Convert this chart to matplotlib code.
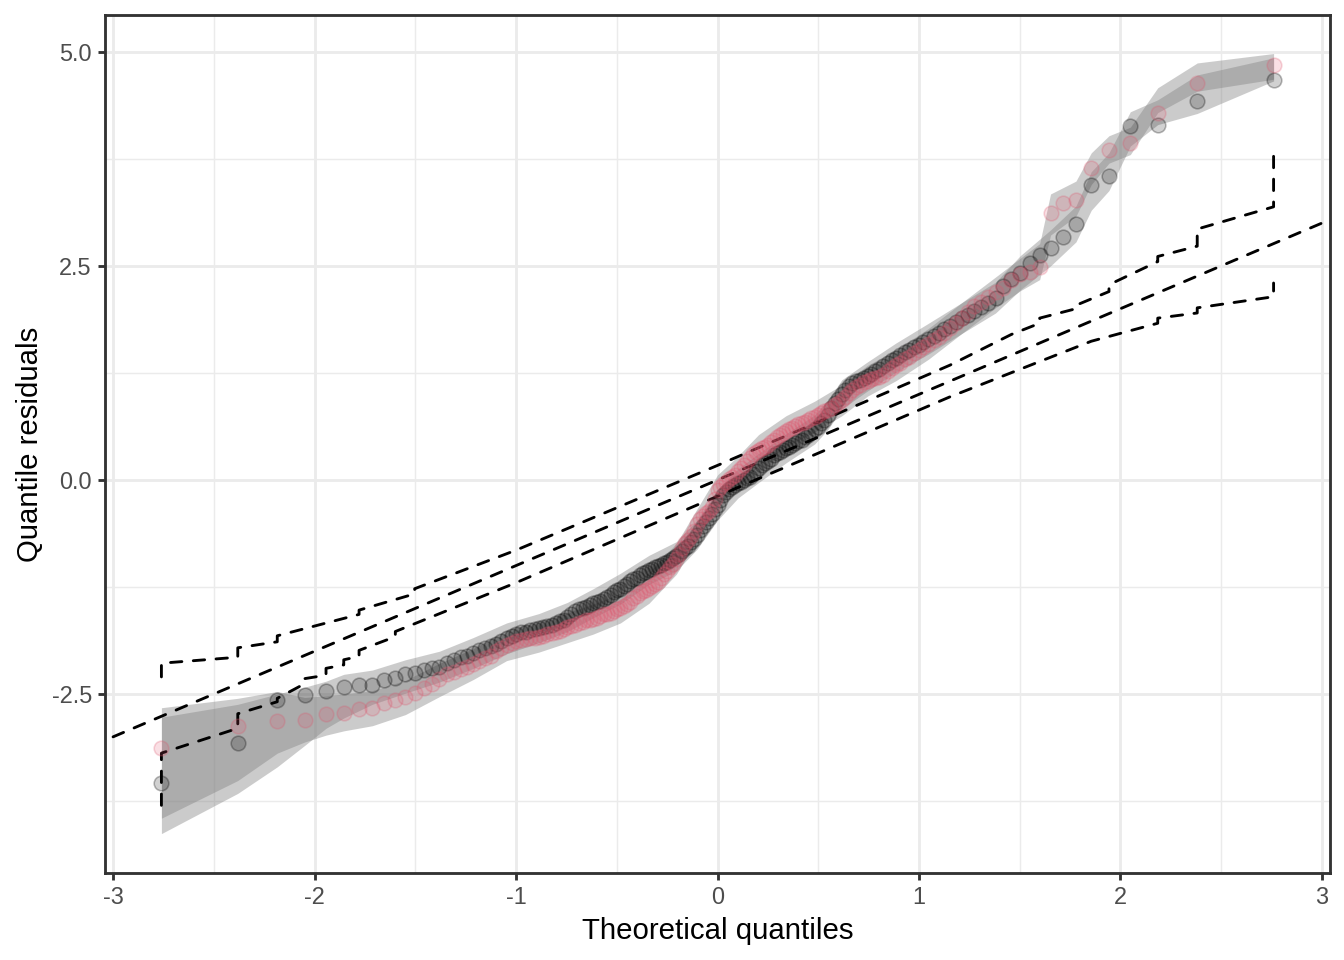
import matplotlib
matplotlib.use("Agg")
import matplotlib.pyplot as plt
from matplotlib.ticker import FixedLocator

plt.rcParams['font.family'] = ['Liberation Sans', 'DejaVu Sans']

# ---------------- data ----------------
theoretical_q = [
    -2.760, -2.381, -2.185, -2.049, -1.943, -1.855, -1.779, -1.713, -1.653, -1.599,
    -1.549, -1.503, -1.459, -1.419, -1.380, -1.343, -1.308, -1.275, -1.243, -1.212,
    -1.182, -1.153, -1.126, -1.099, -1.073, -1.047, -1.022, -0.998, -0.975, -0.952,
    -0.930, -0.908, -0.886, -0.865, -0.844, -0.823, -0.803, -0.783, -0.764, -0.745,
    -0.726, -0.707, -0.688, -0.670, -0.652, -0.634, -0.617, -0.599, -0.582, -0.565,
    -0.548, -0.531, -0.514, -0.498, -0.482, -0.465, -0.449, -0.433, -0.417, -0.402,
    -0.386, -0.370, -0.355, -0.340, -0.324, -0.309, -0.294, -0.279, -0.264, -0.249,
    -0.234, -0.219, -0.204, -0.190, -0.175, -0.160, -0.146, -0.131, -0.116, -0.102,
    -0.087, -0.073, -0.058, -0.044, -0.029, -0.014,
    0.000,
    0.014, 0.029, 0.044, 0.058, 0.073, 0.087, 0.102, 0.116, 0.131, 0.146,
    0.160, 0.175, 0.190, 0.204, 0.219, 0.234, 0.249, 0.264, 0.279, 0.294,
    0.309, 0.324, 0.340, 0.355, 0.370, 0.386, 0.402, 0.417, 0.433, 0.449,
    0.465, 0.482, 0.498, 0.514, 0.531, 0.548, 0.565, 0.582, 0.599, 0.617,
    0.634, 0.652, 0.670, 0.688, 0.707, 0.726, 0.745, 0.764, 0.783, 0.803,
    0.823, 0.844, 0.865, 0.886, 0.908, 0.930, 0.952, 0.975, 0.998, 1.022,
    1.047, 1.073, 1.099, 1.126, 1.153, 1.182, 1.212, 1.243, 1.275, 1.308,
    1.343, 1.380, 1.419, 1.459, 1.503, 1.549, 1.599, 1.653, 1.713, 1.779,
    1.855, 1.943, 2.049, 2.185, 2.381, 2.760,
]

resid_grey = [
    -3.54, -3.07, -2.57, -2.51, -2.47, -2.42, -2.40, -2.39, -2.34, -2.31,
    -2.27, -2.25, -2.22, -2.20, -2.18, -2.14, -2.10, -2.07, -2.05, -2.02,
    -1.99, -1.96, -1.94, -1.91, -1.88, -1.85, -1.82, -1.80, -1.78, -1.77,
    -1.75, -1.74, -1.73, -1.72, -1.71, -1.69, -1.67, -1.65, -1.63, -1.60,
    -1.56, -1.53, -1.51, -1.50, -1.48, -1.46, -1.44, -1.42, -1.41, -1.39,
    -1.37, -1.34, -1.31, -1.29, -1.27, -1.24, -1.21, -1.18, -1.16, -1.14,
    -1.11, -1.09, -1.07, -1.05, -1.04, -1.02, -1.01, -0.99, -0.97, -0.96,
    -0.94, -0.91, -0.89, -0.86, -0.83, -0.80, -0.77, -0.73, -0.69, -0.64,
    -0.59, -0.54, -0.49, -0.45, -0.40, -0.34,
    -0.29,
    -0.23, -0.18, -0.14, -0.11, -0.08, -0.06, -0.04, -0.02, 0.00, 0.02,
    0.04, 0.07, 0.10, 0.14, 0.17, 0.20, 0.22, 0.25, 0.29, 0.31,
    0.33, 0.35, 0.37, 0.39, 0.41, 0.43, 0.45, 0.47, 0.50, 0.53,
    0.56, 0.59, 0.62, 0.66, 0.70, 0.76, 0.84, 0.90, 0.95, 1.00,
    1.05, 1.10, 1.13, 1.15, 1.17, 1.19, 1.21, 1.24, 1.27, 1.30,
    1.33, 1.37, 1.40, 1.43, 1.46, 1.49, 1.52, 1.55, 1.58, 1.61,
    1.65, 1.68, 1.72, 1.76, 1.80, 1.84, 1.89, 1.93, 1.97, 2.02,
    2.07, 2.13, 2.26, 2.35, 2.42, 2.53, 2.63, 2.71, 2.84, 2.99,
    3.44, 3.55, 4.13, 4.14, 4.43, 4.67,
]

resid_pink = [
    -3.13, -2.87, -2.82, -2.80, -2.73, -2.72, -2.67, -2.66, -2.61, -2.57,
    -2.54, -2.49, -2.43, -2.38, -2.33, -2.27, -2.24, -2.21, -2.18, -2.15,
    -2.12, -2.08, -2.05, -2.00, -1.96, -1.93, -1.90, -1.88, -1.87, -1.86,
    -1.85, -1.84, -1.83, -1.82, -1.80, -1.79, -1.77, -1.76, -1.74, -1.72,
    -1.70, -1.69, -1.67, -1.66, -1.64, -1.63, -1.62, -1.61, -1.59, -1.57,
    -1.56, -1.55, -1.53, -1.51, -1.49, -1.47, -1.45, -1.42, -1.38, -1.35,
    -1.32, -1.30, -1.28, -1.26, -1.24, -1.22, -1.19, -1.15, -1.10, -1.06,
    -1.02, -0.98, -0.92, -0.86, -0.80, -0.74, -0.70, -0.66, -0.60, -0.52,
    -0.46, -0.42, -0.39, -0.36, -0.31, -0.22,
    -0.12,
    -0.08, -0.05, -0.02, 0.01, 0.03, 0.06, 0.10, 0.14, 0.18, 0.22,
    0.26, 0.30, 0.33, 0.35, 0.37, 0.39, 0.41, 0.44, 0.47, 0.50,
    0.53, 0.55, 0.57, 0.59, 0.61, 0.63, 0.65, 0.67, 0.68, 0.70,
    0.72, 0.74, 0.76, 0.78, 0.80, 0.82, 0.84, 0.87, 0.90, 0.93,
    0.97, 1.01, 1.05, 1.08, 1.11, 1.14, 1.16, 1.18, 1.19, 1.20,
    1.23, 1.27, 1.31, 1.34, 1.37, 1.41, 1.44, 1.48, 1.52, 1.55,
    1.59, 1.63, 1.67, 1.72, 1.77, 1.83, 1.89, 1.96, 2.03, 2.08,
    2.14, 2.19, 2.24, 2.34, 2.40, 2.43, 2.49, 3.12, 3.23, 3.27,
    3.64, 3.85, 3.94, 4.28, 4.64, 4.85,
]

# simulated bands (one per set of residuals)
band_grey_x = [-2.760, -2.381, -2.185, -2.049, -1.943, -1.855, -1.713, -1.549, -1.380,
               -1.212, -1.047, -0.886, -0.745, -0.617, -0.482, -0.340, -0.204, -0.102,
               0.000, 0.102, 0.204, 0.340, 0.482, 0.548, 0.617, 0.745, 0.886, 1.047,
               1.212, 1.380, 1.503, 1.653, 1.779, 1.855, 1.943, 2.049, 2.185, 2.381, 2.760]
band_grey_lo = [-4.13, -3.66, -3.35, -3.10, -2.90, -2.78, -2.62, -2.49, -2.36,
                -2.20, -2.03, -1.90, -1.77, -1.61, -1.45, -1.22, -1.06, -0.81,
                -0.47, -0.21, -0.03, 0.20, 0.42, 0.59, 0.83, 1.04, 1.26, 1.47,
                1.71, 1.95, 2.22, 2.50, 2.78, 3.15, 3.38, 3.90, 4.15, 4.28, 4.66]
band_grey_hi = [-2.77, -2.62, -2.50, -2.42, -2.35, -2.27, -2.22, -2.10, -2.00,
                -1.84, -1.67, -1.56, -1.43, -1.27, -1.09, -0.88, -0.72, -0.47,
                -0.11, 0.13, 0.31, 0.54, 0.76, 0.93, 1.17, 1.38, 1.60, 1.83,
                2.07, 2.31, 2.62, 2.92, 3.20, 3.60, 3.82, 4.30, 4.44, 4.73, 4.93]

band_pink_x = [-2.760, -2.381, -2.185, -2.049, -1.943, -1.855, -1.713, -1.549, -1.380,
               -1.212, -1.047, -0.886, -0.745, -0.617, -0.482, -0.340, -0.204, -0.102,
               0.000, 0.102, 0.204, 0.340, 0.482, 0.617, 0.745, 0.886, 1.047, 1.212,
               1.380, 1.503, 1.599, 1.653, 1.779, 1.855, 1.943, 2.049, 2.185, 2.381, 2.760]
band_pink_lo = [-3.95, -3.51, -3.19, -3.06, -2.98, -2.93, -2.87, -2.74, -2.53,
                -2.33, -2.11, -2.01, -1.90, -1.80, -1.67, -1.44, -1.10, -0.70,
                -0.30, -0.08, 0.17, 0.39, 0.56, 0.75, 0.98, 1.16, 1.41, 1.71,
                2.01, 2.21, 2.34, 2.86, 3.08, 3.45, 3.70, 3.80, 4.29, 4.54, 4.68]
band_pink_hi = [-2.66, -2.55, -2.47, -2.54, -2.52, -2.50, -2.46, -2.34, -2.14,
                -1.97, -1.75, -1.66, -1.55, -1.45, -1.32, -1.08, -0.74, -0.34,
                0.06, 0.28, 0.53, 0.75, 0.92, 1.11, 1.34, 1.52, 1.77, 2.07,
                2.37, 2.59, 2.76, 3.34, 3.49, 3.82, 4.02, 4.12, 4.58, 4.87, 4.98]

# reference line and envelope (dashed step lines)
ref_x = [-3.0, 3.0]
ref_y = [-3.0, 3.0]
upper_x = [-2.760, -2.760, -2.381, -2.381, -2.185, -2.185, -1.779, -1.779, -1.503, -1.503,
           -1.000, 0.000, 1.153, 1.459, 1.599, 1.599, 1.779, 1.779, 1.943, 1.943,
           2.185, 2.185, 2.381, 2.381, 2.760, 2.760]
upper_y = [-2.30, -2.14, -2.07, -1.96, -1.89, -1.82, -1.57, -1.52, -1.33, -1.27,
           -0.82, 0.17, 1.34, 1.70, 1.83, 1.89, 2.00, 2.04, 2.20, 2.28,
           2.55, 2.61, 2.73, 2.93, 3.19, 3.80]
lower_x = [-2.760, -2.760, -2.381, -2.381, -2.185, -2.185, -2.049, -2.049, -1.943, -1.943,
           -1.855, -1.855, -1.779, -1.779, -1.599, -1.599, -1.000, 0.000, 1.153, 1.855,
           2.185, 2.185, 2.381, 2.381, 2.760, 2.760]
lower_y = [-3.80, -3.19, -2.90, -2.73, -2.59, -2.55, -2.38, -2.32, -2.28, -2.20,
           -2.16, -2.10, -2.06, -1.99, -1.83, -1.77, -1.20, -0.19, 0.97, 1.62,
           1.83, 1.89, 1.95, 2.01, 2.14, 2.30]

x_ticks = [-3, -2, -1, 0, 1, 2, 3]
x_tick_labels = ["-3", "-2", "-1", "0", "1", "2", "3"]
y_ticks = [-2.5, 0.0, 2.5, 5.0]
y_tick_labels = ["-2.5", "0.0", "2.5", "5.0"]

# ---------------- plot ----------------
fig = plt.figure(figsize=(7, 5), dpi=192)
ax = fig.add_axes([105 / 1344, 1 - 873 / 960, (1330 - 105) / 1344, (873 - 15) / 960])

ax.set_xlim(-3.04, 3.04)
ax.set_ylim(-4.59, 5.43)

ax.xaxis.set_major_locator(FixedLocator(x_ticks))
ax.yaxis.set_major_locator(FixedLocator(y_ticks))
ax.xaxis.set_minor_locator(FixedLocator([-2.5, -1.5, -0.5, 0.5, 1.5, 2.5]))
ax.yaxis.set_minor_locator(FixedLocator([-3.75, -1.25, 1.25, 3.75]))
ax.set_xticklabels(x_tick_labels)
ax.set_yticklabels(y_tick_labels)

ax.grid(which='major', color='#EBEBEB', linewidth=1.07, zorder=0)
ax.grid(which='minor', color='#EBEBEB', linewidth=0.53, zorder=0)
ax.set_axisbelow(True)

ax.tick_params(which='major', length=2.75, width=1.07, color='#333333',
               labelsize=8.8, labelcolor='#4D4D4D', pad=2.2)
ax.tick_params(which='minor', length=0)
for sp in ax.spines.values():
    sp.set_color('#333333')
    sp.set_linewidth(1.07)

# bands
ax.fill_between(band_grey_x, band_grey_lo, band_grey_hi, color='#7F7F7F',
                alpha=0.4, linewidth=0, zorder=2)
ax.fill_between(band_pink_x, band_pink_lo, band_pink_hi, color='#7F7F7F',
                alpha=0.4, linewidth=0, zorder=2)

# reference line and envelope
dash_kw = dict(color='black', linewidth=1.07, linestyle=(0, (4, 4)),
               dash_capstyle='round', zorder=3)
ax.plot(ref_x, ref_y, **dash_kw)
ax.plot(upper_x, upper_y, **dash_kw)
ax.plot(lower_x, lower_y, **dash_kw)

# points
ax.scatter(theoretical_q, resid_grey, s=30, facecolors=(0, 0, 0, 0.18),
           edgecolors=(0, 0, 0, 0.28), linewidths=0.6, zorder=4)
ax.scatter(theoretical_q, resid_pink, s=30, facecolors=(0.875, 0.325, 0.42, 0.18),
           edgecolors=(0.875, 0.325, 0.42, 0.25), linewidths=0.6, zorder=5)

ax.set_xlabel("Theoretical quantiles", fontsize=11, labelpad=2.75)
ax.set_ylabel("Quantile residuals", fontsize=11, labelpad=2.75)

fig.savefig("out.png", dpi=192)
